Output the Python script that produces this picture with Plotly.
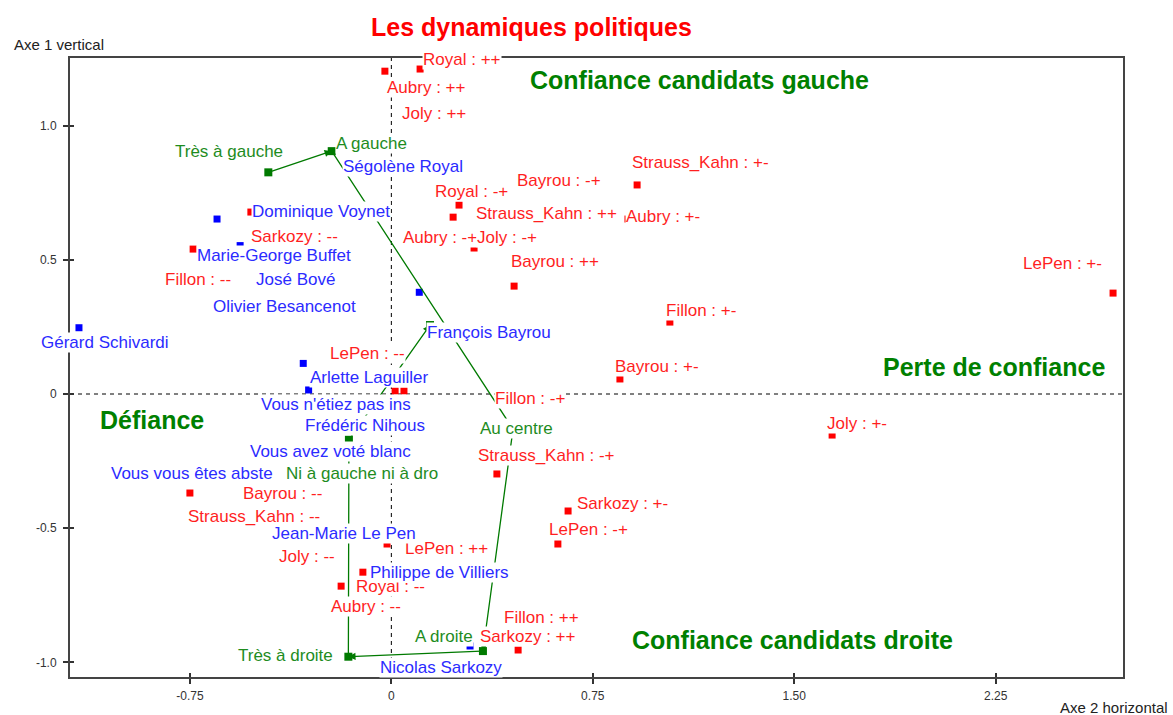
import plotly.graph_objects as go

# ---------------- data ----------------
# red: confidence modalities per candidate
red_names = ["Royal : ++", "Aubry : ++", "Joly : ++", "Royal : -+", "Strauss_Kahn : ++",
             "Aubry : -+", "Joly : -+", "Bayrou : -+", "Strauss_Kahn : +-", "Aubry : +-",
             "Bayrou : ++", "Fillon : +-", "Bayrou : +-", "LePen : +-", "Joly : +-",
             "LePen : --", "Fillon : -+", "Strauss_Kahn : -+", "Sarkozy : +-", "LePen : -+",
             "Sarkozy : ++", "Fillon : ++", "LePen : ++", "Bayrou : --", "Strauss_Kahn : --",
             "Joly : --", "Royal : --", "Aubry : --", "Fillon : --", "Sarkozy : --"]
red_x = [0.107, -0.024, 0.125, 0.252, 0.230, 0.181, 0.308, 0.628, 0.915, 0.881,
         0.457, 1.037, 0.851, 2.687, 1.641, 0.014, 0.047, 0.393, 0.658, 0.620,
         0.472, 0.553, -0.016, -0.750, -0.396, -0.106, -0.187, -0.098, -0.738, -0.523]
red_y = [1.211, 1.203, 1.140, 0.704, 0.659, 0.581, 0.544, 0.674, 0.779, 0.652,
         0.402, 0.268, 0.056, 0.376, -0.153, 0.011, 0.011, -0.298, -0.436, -0.559,
         -0.954, -0.895, -0.559, -0.369, -0.373, -0.664, -0.716, -0.787, 0.540, 0.678]

# blue: first-round vote
blue_names = ["Ségolène Royal", "Dominique Voynet", "Marie-George Buffet", "José Bové",
              "Olivier Besancenot", "Gérard Schivardi", "François Bayrou", "Arlette Laguiller",
              "Vous n'étiez pas ins", "Frédéric Nihous", "Vous avez voté blanc",
              "Vous vous êtes abste", "Jean-Marie Le Pen", "Philippe de Villiers", "Nicolas Sarkozy"]
blue_x = [-0.072, -0.649, -0.563, -0.340, -0.355, -1.163, 0.104, -0.328,
          -0.308, -0.191, -0.079, -0.750, -0.321, 0.144, 0.293]
blue_y = [0.924, 0.652, 0.553, 0.507, 0.417, 0.247, 0.379, 0.114,
          0.015, -0.041, -0.116, -0.295, -0.604, -0.664, -0.939]

# green: political self-positioning (trajectory order)
green_names = ["Très à gauche", "A gauche", "Au centre", "A droite", "Très à droite",
               "Ni à gauche ni à dro", ""]
green_x = [-0.458, -0.222, 0.453, 0.341, -0.160, -0.158, 0.144]
green_y = [0.826, 0.905, -0.131, -0.958, -0.979, -0.170, 0.257]

x_ticks = [-0.75, 0, 0.75, 1.5, 2.25]
x_ticklabels = ["-0.75", "0", "0.75", "1.50", "2.25"]
y_ticks = [-1.0, -0.5, 0, 0.5, 1.0]
y_ticklabels = ["-1.0", "-0.5", "0", "0.5", "1.0"]

# ---------------- label placement (pixel offsets: dx right, dy down) ----------------
label_offsets = {
    "Royal : ++": (3, -10), "Aubry : ++": (2, 16), "Joly : ++": (-23, 25),
    "Royal : -+": (-24, -14), "Strauss_Kahn : ++": (23, -4), "Aubry : -+": (-37, -1),
    "Joly : -+": (3, -11), "Bayrou : -+": (-43, -33), "Strauss_Kahn : +-": (-5, -22),
    "Aubry : +-": (-2, -3), "Bayrou : ++": (-3, -25), "Fillon : +-": (-4, -12),
    "Bayrou : +-": (-5, -12), "LePen : +-": (-90, -30), "Joly : +-": (-5, -12),
    "LePen : --": (-65, -38), "Fillon : -+": (91, 7), "Strauss_Kahn : -+": (-19, -18),
    "Sarkozy : +-": (9, -8), "LePen : -+": (-9, -15), "Sarkozy : ++": (-38, -14),
    "Fillon : ++": (-36, -17), "LePen : ++": (18, 4), "Bayrou : --": (53, 0),
    "Strauss_Kahn : --": (-97, 22), "Joly : --": (-84, -16), "Royal : --": (15, 0),
    "Aubry : --": (-34, 1), "Fillon : --": (-28, 30), "Sarkozy : --": (0, 24),
    "Ségolène Royal": (-29, 20), "Dominique Voynet": (35, -8),
    "Marie-George Buffet": (-43, 10), "José Bové": (-44, 22),
    "Olivier Besancenot": (-83, 24), "Gérard Schivardi": (-38, 15),
    "François Bayrou": (8, 40), "Arlette Laguiller": (7, 14),
    "Vous n'étiez pas ins": (-48, 15), "Frédéric Nihous": (-35, 20),
    "Vous avez voté blanc": (-120, 26), "Vous vous êtes abste": (-79, 0),
    "Jean-Marie Le Pen": (-33, -23), "Philippe de Villiers": (-60, 0),
    "Nicolas Sarkozy": (-90, 22),
    "Très à gauche": (-93, -21), "A gauche": (4, -8), "Au centre": (-33, -1),
    "A droite": (-68, -15), "Très à droite": (-110, -1), "Ni à gauche ni à dro": (-63, 34),
}

RED = "#ff0000"
BLUE = "#0000ff"
GREEN = "#007a00"
RED_TXT = "#ff1f1f"
BLUE_TXT = "#2b2bff"
GREEN_TXT = "#1e8c1e"
FONT = "Liberation Sans, Arial, sans-serif"

fig = go.Figure()
fig.add_trace(go.Scatter(x=red_x, y=red_y, mode="markers",
                         marker=dict(symbol="square", size=7, color=RED), hoverinfo="skip"))
fig.add_trace(go.Scatter(x=blue_x, y=blue_y, mode="markers",
                         marker=dict(symbol="square", size=7, color=BLUE), hoverinfo="skip"))
fig.add_trace(go.Scatter(x=green_x, y=green_y, mode="markers",
                         marker=dict(symbol="square", size=8, color=GREEN), hoverinfo="skip"))
# overlay axes only to draw the inner half of the crossing ticks
fig.add_trace(go.Scatter(x=[], y=[], xaxis="x2", yaxis="y2", hoverinfo="skip"))

annotations = []
# trajectory arrows
for i in range(len(green_x) - 1):
    annotations.append(dict(x=green_x[i + 1], y=green_y[i + 1], ax=green_x[i], ay=green_y[i],
                            xref="x", yref="y", axref="x", ayref="y", text="",
                            showarrow=True, arrowhead=2, arrowsize=1.1, arrowwidth=1.3,
                            arrowcolor=GREEN, standoff=0))


def add_labels(names, xs, ys, color):
    for n, x, y in zip(names, xs, ys):
        if not n:
            continue
        dx, dy = label_offsets[n]
        annotations.append(dict(x=x, y=y, xref="x", yref="y", text=n, showarrow=False,
                                xanchor="left", yanchor="middle", xshift=dx - 1, yshift=-dy,
                                bgcolor="white", borderpad=0,
                                font=dict(family=FONT, size=17, color=color)))


add_labels(red_names, red_x, red_y, RED_TXT)
add_labels(blue_names, blue_x, blue_y, BLUE_TXT)
add_labels(green_names, green_x, green_y, GREEN_TXT)

# quadrant captions
quad = [("Confiance candidats gauche", 0.516, 1.170),
        ("Perte de confiance", 1.830, 0.100),
        ("Défiance", -1.085, -0.097),
        ("Confiance candidats droite", 0.896, -0.917)]
for t, x, y in quad:
    annotations.append(dict(x=x, y=y, xref="x", yref="y", text="<b>%s</b>" % t, showarrow=False,
                            xanchor="left", yanchor="middle", xshift=-2,
                            font=dict(family=FONT, size=25, color="#008000")))

# title and axis names
annotations.append(dict(x=0.4378, y=1.0501, xref="paper", yref="paper",
                        text="<b>Les dynamiques politiques</b>", showarrow=False,
                        xanchor="center", yanchor="middle",
                        font=dict(family=FONT, size=25, color="#ff0000")))
annotations.append(dict(x=-0.0551, y=1.0226, xref="paper", yref="paper", text="Axe 1 vertical",
                        showarrow=False, xanchor="left", yanchor="middle",
                        font=dict(family=FONT, size=15, color="#222222")))
annotations.append(dict(x=1.0446, y=-0.0485, xref="paper", yref="paper", text="Axe 2 horizontal",
                        showarrow=False, xanchor="right", yanchor="middle",
                        font=dict(family=FONT, size=15, color="#222222")))

xr = [-1.1964, 2.724]
yr = [-1.0546, 1.2521]
axis_common = dict(showgrid=False, zeroline=False, ticks="outside", ticklen=5, tickwidth=1.5,
                   tickcolor="#333333", showline=True, linecolor="#444444", linewidth=2,
                   mirror=True, tickfont=dict(family=FONT, size=12, color="#333333"))

fig.update_layout(
    width=1173, height=715,
    margin=dict(l=70, r=50, t=58, b=38),
    paper_bgcolor="white", plot_bgcolor="white",
    showlegend=False,
    xaxis=dict(range=xr, tickvals=x_ticks, ticktext=x_ticklabels, ticklabelstandoff=2,
               **axis_common),
    yaxis=dict(range=yr, tickvals=y_ticks, ticktext=y_ticklabels, ticklabelstandoff=4,
               **axis_common),
    xaxis2=dict(range=xr, overlaying="x", anchor="y", side="bottom", tickvals=x_ticks,
                ticks="inside", ticklen=4, tickwidth=1.5, tickcolor="#333333",
                showticklabels=False, showgrid=False, zeroline=False, showline=False),
    yaxis2=dict(range=yr, overlaying="y", anchor="x", side="left", tickvals=y_ticks,
                ticks="inside", ticklen=4, tickwidth=1.5, tickcolor="#333333",
                showticklabels=False, showgrid=False, zeroline=False, showline=False),
    shapes=[
        dict(type="line", xref="x", yref="paper", x0=0, x1=0, y0=0, y1=1, layer="below",
             line=dict(color="#000000", width=1, dash="4px,4px")),
        dict(type="line", xref="paper", yref="y", x0=0, x1=1, y0=0, y1=0, layer="below",
             line=dict(color="#000000", width=1, dash="4px,4px")),
    ],
    annotations=annotations,
)

fig.write_html("out.html", config={"displayModeBar": False},
               post_script="document.body.style.margin='0';")
